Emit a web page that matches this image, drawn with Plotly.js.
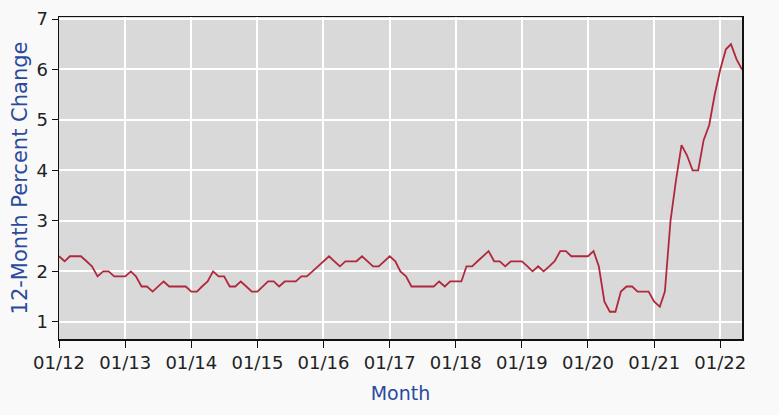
<!DOCTYPE html>
<html>
<head>
<meta charset="utf-8">
<script src="https://cdn.plot.ly/plotly-3.0.1.min.js"></script>
<style>html,body{margin:0;padding:0;background:#f9f9f9;}#chart{width:779px;height:415px;}</style>
</head>
<body>
<div id="chart"></div>
<script>
// 12-month percent change, monthly, Jan 2012 .. May 2022
var v2012 = [2.3, 2.2, 2.3, 2.3, 2.3, 2.2, 2.1, 1.9, 2.0, 2.0, 1.9, 1.9];
var v2013 = [1.9, 2.0, 1.9, 1.7, 1.7, 1.6, 1.7, 1.8, 1.7, 1.7, 1.7, 1.7];
var v2014 = [1.6, 1.6, 1.7, 1.8, 2.0, 1.9, 1.9, 1.7, 1.7, 1.8, 1.7, 1.6];
var v2015 = [1.6, 1.7, 1.8, 1.8, 1.7, 1.8, 1.8, 1.8, 1.9, 1.9, 2.0, 2.1];
var v2016 = [2.2, 2.3, 2.2, 2.1, 2.2, 2.2, 2.2, 2.3, 2.2, 2.1, 2.1, 2.2];
var v2017 = [2.3, 2.2, 2.0, 1.9, 1.7, 1.7, 1.7, 1.7, 1.7, 1.8, 1.7, 1.8];
var v2018 = [1.8, 1.8, 2.1, 2.1, 2.2, 2.3, 2.4, 2.2, 2.2, 2.1, 2.2, 2.2];
var v2019 = [2.2, 2.1, 2.0, 2.1, 2.0, 2.1, 2.2, 2.4, 2.4, 2.3, 2.3, 2.3];
var v2020 = [2.3, 2.4, 2.1, 1.4, 1.2, 1.2, 1.6, 1.7, 1.7, 1.6, 1.6, 1.6];
var v2021 = [1.4, 1.3, 1.6, 3.0, 3.8, 4.5, 4.3, 4.0, 4.0, 4.6, 4.9, 5.5];
var v2022 = [6.0, 6.4, 6.5, 6.2, 6.0];
var years = [2012, 2013, 2014, 2015, 2016, 2017, 2018, 2019, 2020, 2021, 2022];
var yearValues = [v2012, v2013, v2014, v2015, v2016, v2017, v2018, v2019, v2020, v2021, v2022];
var tickLabels = ["01/12","01/13","01/14","01/15","01/16","01/17","01/18","01/19","01/20","01/21","01/22"];

var x = [], y = [];
years.forEach(function (yr, i) {
  yearValues[i].forEach(function (val, m) {
    x.push(yr + "-" + (m + 1 < 10 ? "0" : "") + (m + 1) + "-01");
    y.push(val);
  });
});
var tickVals = years.map(function (yr) { return yr + "-01-01"; });

var fontFam = "DejaVu Sans, Verdana, sans-serif";
Plotly.newPlot("chart", [{
  x: x, y: y, type: "scatter", mode: "lines",
  line: {color: "#b0283c", width: 1.8},
  hoverinfo: "x+y"
}], {
  width: 779, height: 415,
  margin: {l: 59, r: 37, t: 17, b: 76},
  paper_bgcolor: "#f9f9f9",
  plot_bgcolor: "#d9d9d9",
  showlegend: false,
  font: {family: fontFam, size: 18, color: "#222"},
  xaxis: {
    type: "date",
    range: [x[0], x[x.length - 1]],
    tickvals: tickVals, ticktext: tickLabels,
    tickangle: 0,
    showgrid: true, gridcolor: "#ffffff", gridwidth: 2,
    showline: true, linecolor: "#111", linewidth: 1.5, mirror: true,
    ticks: "outside", ticklen: 7, tickcolor: "#111", tickwidth: 1,
    tickfont: {family: fontFam, size: 18, color: "#222"},
    zeroline: false,
    title: {text: "Month", font: {family: fontFam, size: 19, color: "#2b4a9c"}, standoff: 14}
  },
  yaxis: {
    range: [0.66, 7.04],
    tickvals: [1, 2, 3, 4, 5, 6, 7],
    showgrid: true, gridcolor: "#ffffff", gridwidth: 2,
    showline: true, linecolor: "#111", linewidth: 1.5, mirror: true,
    ticks: "outside", ticklen: 6, tickcolor: "#111", tickwidth: 1,
    tickfont: {family: fontFam, size: 18, color: "#222"},
    zeroline: false,
    title: {text: "12-Month Percent Change", font: {family: fontFam, size: 21, color: "#2b4a9c"}, standoff: 3}
  }
}, {displayModeBar: false, staticPlot: true});
</script>
</body>
</html>
